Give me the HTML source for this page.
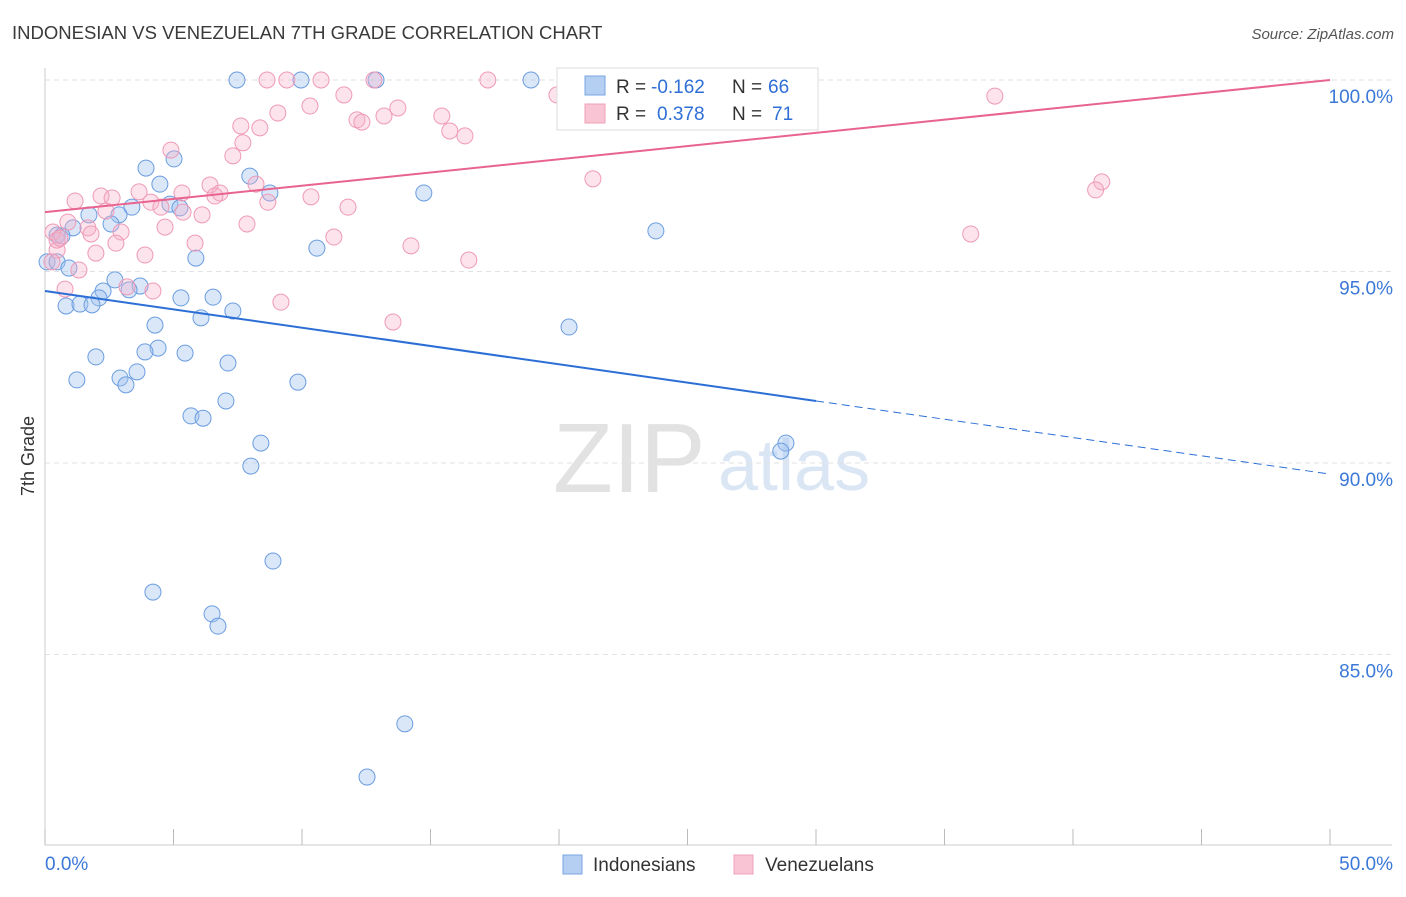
<!DOCTYPE html>
<html><head><meta charset="utf-8"><style>
body{margin:0;background:#fff;font-family:"Liberation Sans",sans-serif;}
svg text{font-family:"Liberation Sans",sans-serif;}
</style></head><body>
<svg id="chart" width="1406" height="892" xmlns="http://www.w3.org/2000/svg">
<text x="12" y="39" font-size="18.5" fill="#3a3a3a">INDONESIAN VS VENEZUELAN 7TH GRADE CORRELATION CHART</text>
<text x="1394" y="39" font-size="15" fill="#555" font-style="italic" text-anchor="end">Source: ZipAtlas.com</text>
<g>
<text x="553" y="492" font-size="98" font-family="Liberation Serif,serif" fill="#e2e2e2">ZIP</text>
<text x="718" y="490" font-size="72" fill="#dbe6f5">atlas</text>
</g>
<g id="grid"></g>
<g id="axes"></g>
<g id="pts"></g>
<g id="lines"></g>
<text transform="translate(34,456) rotate(-90)" font-size="18" fill="#333" text-anchor="middle">7th Grade</text>
<g>
<rect x="557" y="68" width="261" height="62" fill="#fff" stroke="#ddd"/>
<rect x="585" y="76" width="20" height="19" fill="#b4cff2" stroke="#7aa6e3"/>
<rect x="585" y="104" width="20" height="19" fill="#f9c4d4" stroke="#f0a0b9"/>
<text x="616" y="93" font-size="19" fill="#333">R =</text>
<text x="651" y="93" font-size="19" fill="#2f6fd6">-0.162</text>
<text x="732" y="93" font-size="19" fill="#333">N =</text>
<text x="768" y="93" font-size="19" fill="#2f6fd6">66</text>
<text x="616" y="120" font-size="19" fill="#333">R =</text>
<text x="657" y="120" font-size="19" fill="#2f6fd6">0.378</text>
<text x="732" y="120" font-size="19" fill="#333">N =</text>
<text x="772" y="120" font-size="19" fill="#2f6fd6">71</text>
</g>
<g>
<rect x="563" y="855" width="19" height="19" fill="#b4cff2" stroke="#7aa6e3"/>
<text x="593" y="871" font-size="19" fill="#333">Indonesians</text>
<rect x="734" y="855" width="19" height="19" fill="#f9c4d4" stroke="#f0a0b9"/>
<text x="765" y="871" font-size="19" fill="#333">Venezuelans</text>
</g>
</svg>
<script>
const yTicks=[100,95,90,85];
const yTickLabels=["100.0%","95.0%","90.0%","85.0%"];
const xTickLabels=["0.0%","50.0%"];
const blueX=[7.47,9.96,12.88,18.91,3.93,5.02,7.97,4.47,14.74,8.75,4.86,5.25,3.38,1.71,2.88,2.57,1.09,0.47,0.66,23.77,10.58,5.87,0.08,0.47,0.93,2.72,3.70,2.26,3.27,2.10,6.54,5.29,0.82,1.36,1.83,7.31,6.07,4.28,20.39,4.40,5.45,3.89,1.98,7.12,3.58,2.92,3.15,1.24,9.84,7.04,5.68,6.15,8.40,8.01,28.83,28.63,8.87,4.20,6.50,6.73,14.00,12.53];
const blueY=[100,100,100,100,97.70,97.94,97.49,97.28,97.05,97.05,96.76,96.66,96.68,96.48,96.48,96.24,96.14,95.95,95.93,96.06,95.61,95.35,95.25,95.25,95.09,94.78,94.62,94.49,94.52,94.31,94.33,94.31,94.10,94.15,94.13,93.97,93.79,93.60,93.55,93.00,92.87,92.90,92.77,92.61,92.38,92.22,92.04,92.17,92.11,91.62,91.23,91.17,90.52,89.92,90.52,90.31,87.44,86.63,86.06,85.74,83.19,81.80];
const pinkX=[8.64,9.41,10.74,12.80,17.23,19.92,21.82,36.96,11.63,10.31,13.73,9.06,15.44,12.14,12.33,13.19,15.75,16.34,7.62,8.36,7.70,4.90,7.31,8.21,21.32,41.12,40.88,6.42,3.66,2.18,2.61,6.81,5.33,6.61,8.67,10.35,1.17,4.12,4.51,5.37,2.37,11.79,6.11,0.89,1.67,2.96,1.79,7.86,4.67,0.31,11.24,36.02,0.47,5.84,2.76,14.24,1.98,3.89,16.49,1.32,0.78,4.20,3.19,9.18,13.54,0.27,0.47,0.58];
const pinkY=[100,100,100,100,100,99.61,100,99.58,99.61,99.32,99.27,99.14,99.06,98.96,98.90,99.06,98.67,98.54,98.80,98.75,98.36,98.17,98.02,97.28,97.42,97.34,97.13,97.26,97.08,96.97,96.92,97.05,97.05,96.97,96.81,96.95,96.84,96.81,96.68,96.55,96.58,96.68,96.48,96.29,96.14,96.03,95.98,96.24,96.16,96.03,95.90,95.98,95.56,95.74,95.74,95.67,95.48,95.43,95.30,95.04,94.54,94.49,94.60,94.20,93.68,95.25,95.82,95.87];
const blueTrend=[[0,94.49],[30,91.62],[50,89.71]];
const pinkTrend=[[0,96.55],[50,100]];
const NS="http://www.w3.org/2000/svg";
const sx=v=>45+v/50*1285;
const sy=v=>80+(100-v)*38.3;
function mk(tag,attrs,parent){const e=document.createElementNS(NS,tag);for(const k in attrs)e.setAttribute(k,attrs[k]);document.getElementById(parent).appendChild(e);return e;}
yTicks.forEach((t,i)=>{
  const g=mk('line',{x1:45,x2:1392,y1:sy(t),y2:sy(t),stroke:'#e2e2e2','stroke-dasharray':'5,4'},'grid');
  
  
  const l=mk('text',{x:1393,y:sy(t)+23,'font-size':19,fill:'#3b78d8','text-anchor':'end'},'grid');
  l.textContent=yTickLabels[i];
  
  
});
const ax=mk('line',{x1:45,x2:1392,y1:845,y2:845,stroke:'#ccc'},'axes');


const ay=mk('line',{x1:45,x2:45,y1:68,y2:845,stroke:'#ccc'},'axes');


for(let i=0;i<=10;i++){
  const t=mk('line',{x1:sx(i*5),x2:sx(i*5),y1:829,y2:845,stroke:'#bbb'},'axes');
  
  
}
xTickLabels.forEach((s,i)=>{
  const t=mk('text',{x:i?1393:45,y:870,'font-size':19,fill:'#3b78d8','text-anchor':i?'end':'start'},'axes');
  t.textContent=s;
  
  
});
blueX.forEach((x,i)=>{
  const c=mk('circle',{cx:sx(x),cy:sy(blueY[i]),r:8,fill:'rgba(160,195,240,0.4)',stroke:'#6b9de0','stroke-width':1},'pts');
  
  
});
pinkX.forEach((x,i)=>{
  const c=mk('circle',{cx:sx(x),cy:sy(pinkY[i]),r:8,fill:'rgba(247,175,200,0.35)',stroke:'#ef9ab6','stroke-width':1},'pts');
  
  
});
const b1=mk('line',{x1:sx(blueTrend[0][0]),y1:sy(blueTrend[0][1]),x2:sx(blueTrend[1][0]),y2:sy(blueTrend[1][1]),stroke:'#2b6fd6','stroke-width':2},'lines');


const b2=mk('line',{x1:sx(blueTrend[1][0]),y1:sy(blueTrend[1][1]),x2:sx(blueTrend[2][0]),y2:sy(blueTrend[2][1]),stroke:'#2b6fd6','stroke-width':1,'stroke-dasharray':'8,5'},'lines');


const p1=mk('line',{x1:sx(pinkTrend[0][0]),y1:sy(pinkTrend[0][1]),x2:sx(pinkTrend[1][0]),y2:sy(pinkTrend[1][1]),stroke:'#e8648f','stroke-width':2},'lines');


</script>
</body></html>
